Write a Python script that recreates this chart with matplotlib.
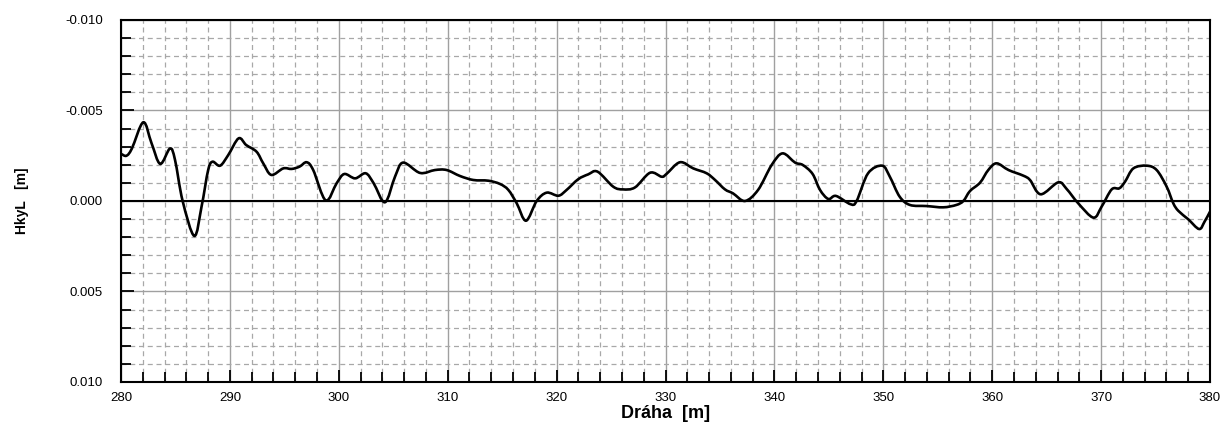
import numpy as np
import matplotlib.pyplot as plt
from matplotlib.path import Path
from matplotlib.patches import PathPatch
from matplotlib.ticker import MultipleLocator, FormatStrFormatter

plt.rcParams['font.family'] = ['Liberation Sans', 'DejaVu Sans']

# staničení [m]
draha = [280.0, 280.5, 281.0, 282.05, 282.8, 283.6, 284.5, 284.96, 285.66, 286.73,
         287.4, 288.0, 288.4, 289.1, 289.85, 290.8, 291.5, 292.45, 293.06, 293.8,
         294.9, 295.67, 296.4, 297.05, 297.65, 298.8, 299.8, 300.5, 301.5, 302.47,
         303.2, 304.24, 305.16, 305.9, 307.46, 308.83, 309.9, 311.13, 312.35, 313.73,
         314.8, 315.57, 316.34, 317.19, 318.17, 319.09, 320.16, 320.9, 321.98, 322.9,
         323.76, 325.2, 326.1, 327.2, 328.58, 329.65, 330.1, 331.33, 332.55, 333.78,
         334.55, 335.46, 336.2, 337.3, 338.5, 339.75, 340.75, 341.9, 342.6, 343.5,
         344.19, 344.95, 345.65, 347.0, 347.55, 348.6, 349.9, 350.6, 351.5, 352.45,
         353.98, 355.5, 356.7, 357.35, 357.96, 358.88, 359.64, 360.4, 361.5, 362.85,
         363.47, 364.45, 366.07, 366.84, 367.9, 369.3, 370.05, 370.97, 371.67, 372.2,
         372.96, 374.18, 375.1, 376.02, 376.63, 377.1, 378.0, 379.0, 379.5, 380.0]

# vodorovná nerovnost levé kolejnice [mm]
hkyl_mm = [-2.6, -2.5, -2.9, -4.35, -3.2, -2.05, -2.9, -2.27, 0.0, 1.93,
           0.3, -1.7, -2.17, -1.95, -2.54, -3.46, -3.09, -2.72, -2.08, -1.44,
           -1.8, -1.77, -1.9, -2.14, -1.71, -0.03, -0.98, -1.49, -1.25, -1.53,
           -0.98, 0.07, -1.34, -2.12, -1.55, -1.71, -1.71, -1.38, -1.16, -1.12,
           -0.94, -0.61, 0.13, 1.09, 0.0, -0.46, -0.29, -0.6, -1.2, -1.47,
           -1.62, -0.79, -0.64, -0.75, -1.56, -1.34, -1.5, -2.14, -1.8, -1.53,
           -1.16, -0.64, -0.42, 0.0, -0.61, -1.99, -2.63, -2.12, -1.99, -1.5,
           -0.61, -0.11, -0.28, 0.18, 0.0, -1.53, -1.95, -1.34, -0.24, 0.22,
           0.28, 0.35, 0.22, 0.0, -0.55, -1.01, -1.71, -2.08, -1.71, -1.40,
           -1.16, -0.37, -1.03, -0.66, 0.13, 0.92, 0.31, -0.64, -0.70, -1.07,
           -1.8, -1.95, -1.71, -0.79, 0.13, 0.55, 1.01, 1.55, 1.14, 0.59]

hkyl = np.array(hkyl_mm) / 1000.0


def smooth_path(x, y):
    # Catmull-Rom tangents -> cubic Bezier segments through every measured point
    x = np.asarray(x, float)
    y = np.asarray(y, float)
    n = len(x)
    dx = np.gradient(x)
    dy = np.gradient(y)
    verts = [(x[0], y[0])]
    codes = [Path.MOVETO]
    for i in range(n - 1):
        c1 = (x[i] + dx[i] / 3, y[i] + dy[i] / 3)
        c2 = (x[i + 1] - dx[i + 1] / 3, y[i + 1] - dy[i + 1] / 3)
        verts += [c1, c2, (x[i + 1], y[i + 1])]
        codes += [Path.CURVE4] * 3
    return Path(verts, codes)


fig = plt.figure(figsize=(12.21, 4.25), dpi=100)
ax = fig.add_axes([0.0991, 0.1012, 0.8919, 0.8518])

ax.set_xlim(280, 380)
ax.set_ylim(0.010, -0.010)

ax.xaxis.set_major_locator(MultipleLocator(10))
ax.xaxis.set_minor_locator(MultipleLocator(2))
ax.yaxis.set_major_locator(MultipleLocator(0.005))
ax.yaxis.set_minor_locator(MultipleLocator(0.001))
ax.yaxis.set_major_formatter(FormatStrFormatter('%.3f'))

ax.grid(which='major', color='#a0a0a0', linestyle='-', linewidth=1.0)
ax.grid(which='minor', color='#a8a8a8', linestyle=(0, (4, 3)), linewidth=0.9)
ax.set_axisbelow(True)

ax.axhline(0, color='black', linewidth=1.5, zorder=2)
ax.add_patch(PathPatch(smooth_path(draha, hkyl), facecolor='none',
                       edgecolor='black', linewidth=1.9, zorder=3,
                       capstyle='round', joinstyle='round'))

ax.tick_params(which='both', direction='in', color='black', width=1.3,
               labelsize=9.5, top=False, right=False)
ax.tick_params(which='major', length=9)
ax.tick_params(which='minor', length=7)
ax.tick_params(axis='y', which='both', pad=13)
ax.tick_params(axis='x', which='both', pad=7)

for s in ax.spines.values():
    s.set_linewidth(1.5)

ax.set_xlabel('Dráha  [m]', fontsize=13, fontweight='bold', labelpad=1)
ax.set_ylabel('HkyL   [m]', fontsize=10, fontweight='bold', labelpad=26)

fig.savefig('out.png', dpi=100)
